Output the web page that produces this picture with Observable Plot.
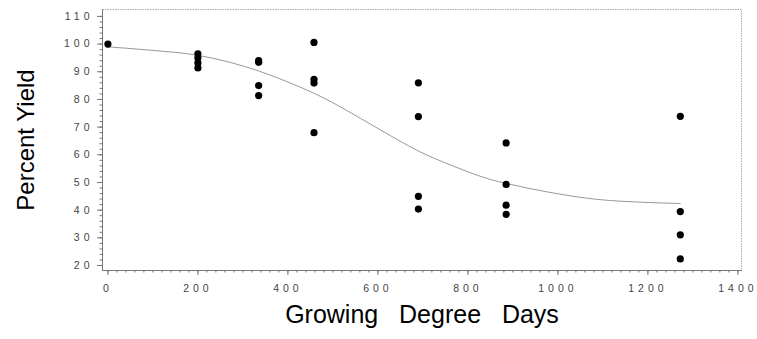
<!DOCTYPE html>
<html>
<head>
<meta charset="utf-8">
<script src="https://cdn.jsdelivr.net/npm/d3@7"></script>
<script src="https://cdn.jsdelivr.net/npm/@observablehq/plot@0.6"></script>
<style>
  html, body { margin: 0; padding: 0; background: #fff; }
  svg { font-family: "Liberation Sans", Arial, sans-serif; }
  g[aria-label="x-axis tick label"] text,
  g[aria-label="y-axis tick label"] text { letter-spacing: 4px; }
</style>
</head>
<body>
<div id="chart"></div>
<script>
// Observed yield points (growing degree days, percent yield)
const obsGDD   = [0, 200, 200, 200, 200, 335, 335, 335, 335, 458, 458, 458, 458, 690, 690, 690, 690, 885, 885, 885, 885, 1272, 1272, 1272, 1272];
const obsYield = [100, 96.5, 95, 93.2, 91.4, 94, 93.4, 85, 81.4, 100.6, 87.3, 85.9, 68, 86, 73.8, 45, 40.4, 64.3, 49.3, 41.8, 38.5, 73.9, 39.5, 31.1, 22.4];

// Fitted curve
const fitGDD   = [0, 94, 198, 335, 409, 480, 561, 628, 687, 768, 850, 887, 976, 1087, 1198, 1272];
const fitYield = [99, 97.8, 96, 90.3, 85.7, 80.5, 73.2, 66.9, 61.6, 55.9, 51.1, 49.6, 46.6, 43.9, 42.8, 42.4];

// Axis ticks
const xTicks = [0, 200, 400, 600, 800, 1000, 1200, 1400];
const yTicks = [20, 30, 40, 50, 60, 70, 80, 90, 100, 110];
const xMinor = d3.range(0, 1401, 20);
const yMinor = d3.range(20, 111, 2);

const xTitle = "Growing\u00a0\u00a0\u00a0Degree\u00a0\u00a0\u00a0Days";
const yTitle = "Percent Yield";

const points = obsGDD.map((g, i) => ({gdd: g, y: obsYield[i]}));
const fit = fitGDD.map((g, i) => ({gdd: g, y: fitYield[i]}));

const labelColor = "#444";
const plain = d => String(d);

const chart = Plot.plot({
  width: 757,
  height: 339,
  marginLeft: 102,
  marginRight: 16,
  marginTop: 9,
  marginBottom: 69,
  style: {background: "#fff", fontFamily: "'Liberation Sans', Arial, sans-serif", overflow: "visible"},
  x: {domain: [-12, 1408]},
  y: {domain: [18.2, 112.5]},
  marks: [
    Plot.frame({stroke: "#aaa", strokeDasharray: "1.5,1"}),
    Plot.frame({anchor: "left", stroke: "#777"}),
    Plot.frame({anchor: "bottom", stroke: "#777"}),
    Plot.axisY(yMinor, {tickSize: 2.5, tickFormat: () => "", stroke: "#777", label: null}),
    Plot.axisX(xMinor, {tickSize: 2.5, tickFormat: () => "", stroke: "#777", label: null}),
    Plot.axisY(yTicks, {tickSize: 5, tickPadding: 4, fontSize: 10.5, fill: labelColor, stroke: "#777", tickFormat: plain, label: null}),
    Plot.axisX(xTicks, {tickSize: 5, tickPadding: 9, fontSize: 10.5, fill: labelColor, stroke: "#777", tickFormat: plain, label: null}),
    Plot.line(fit, {x: "gdd", y: "y", curve: "monotone-x", stroke: "#999", strokeWidth: 1}),
    Plot.dot(points, {x: "gdd", y: "y", r: 3.6, fill: "#000", stroke: "none"}),
    Plot.text([yTitle], {frameAnchor: "left", textAnchor: "middle", dx: -76, rotate: -90, fontSize: 24, fill: "#000", text: d => d}),
    Plot.text([xTitle], {frameAnchor: "bottom", textAnchor: "middle", dy: 52, fontSize: 25, fill: "#000", text: d => d})
  ]
});
document.getElementById("chart").appendChild(chart);
</script>
</body>
</html>
